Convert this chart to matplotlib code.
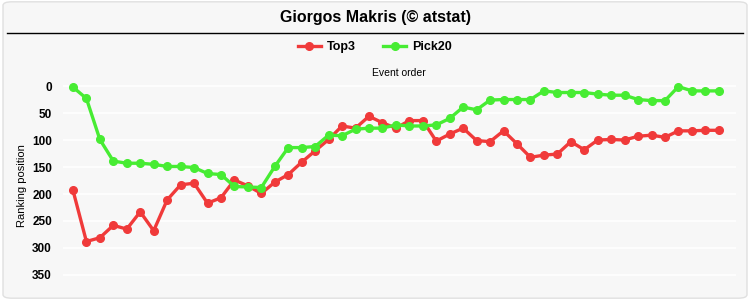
import matplotlib.pyplot as plt
from matplotlib.patches import FancyBboxPatch
from matplotlib.lines import Line2D

plt.rcParams['font.family'] = ['Liberation Sans', 'DejaVu Sans']

title = "Giorgos Makris (© atstat)"
series_names = ["Top3", "Pick20"]
top3 = [193, 288, 281, 258, 265, 233, 268, 211, 183, 180, 217, 207, 174, 185,
        199, 178, 164, 141, 120, 99, 74, 78, 56, 68, 78, 64, 64, 102, 89, 78,
        101, 103, 83, 107, 132, 128, 126, 103, 118, 100, 99, 100, 93, 91, 95,
        83, 83, 82, 82]
pick20 = [2, 23, 99, 139, 143, 143, 145, 149, 149, 151, 162, 164, 186, 187,
          188, 149, 114, 114, 112, 91, 92, 80, 78, 78, 72, 74, 74, 72, 60, 39,
          44, 26, 25, 25, 25, 9, 12, 12, 12, 15, 17, 17, 25, 27, 27, 1, 9, 9, 9]
y_ticks = [0, 50, 100, 150, 200, 250, 300, 350]

red = '#f03a3a'
green = '#47ec33'

fig = plt.figure(figsize=(7.5, 3), dpi=100)
fig.patch.set_facecolor('white')
bg = FancyBboxPatch((0.004, 0.006), 0.992, 0.988, boxstyle="round,pad=0,rounding_size=0.012",
                    transform=fig.transFigure, facecolor='#f7f7f7', edgecolor='#e0e0e0',
                    linewidth=1, zorder=-10)
fig.patches.append(bg)

fig.text(0.5, 0.943, title, ha='center', va='center', fontsize=11.5, fontweight='bold')
fig.add_artist(Line2D([0.009, 0.991], [0.89, 0.89], transform=fig.transFigure,
                      color='black', linewidth=1))

ax = fig.add_axes([0.084, 0.033, 0.897, 0.70])
ax.set_facecolor('#f7f7f7')
x = list(range(len(top3)))
ax.plot(x, top3, color=red, linewidth=2.4, marker='o', markersize=5.5, label=series_names[0])
ax.plot(x, pick20, color=green, linewidth=2.4, marker='o', markersize=5.5, label=series_names[1])

ax.set_xlim(-0.74, len(x) - 1 + 1.26)
ax.set_ylim(378, -11)
ax.set_yticks(y_ticks)
ax.set_yticklabels([str(t) for t in y_ticks], fontweight='bold', fontsize=8.5)
ax.set_xticks([])
ax.tick_params(axis='y', length=0, pad=8)
ax.grid(axis='y', color='white', linewidth=1.2)
ax.set_axisbelow(True)
for s in ax.spines.values():
    s.set_visible(False)
ax.set_ylabel("Ranking position", fontsize=8)
ax.yaxis.set_label_coords(-0.0535, 0.5)
ax.set_title("Event order", fontsize=7.5, pad=3)

fig.legend(loc='center', bbox_to_anchor=(0.5, 0.843), ncol=2, frameon=False,
           prop={'weight': 'bold', 'size': 9}, handlelength=1.8, columnspacing=2.2,
           handletextpad=0.5)

fig.savefig('out.png', dpi=100, facecolor='white')
